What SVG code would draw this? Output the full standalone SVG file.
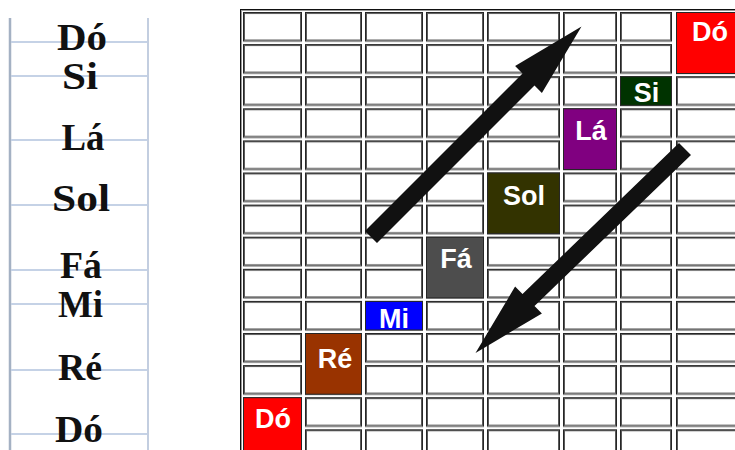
<svg xmlns="http://www.w3.org/2000/svg" width="735" height="450" viewBox="0 0 735 450">
<style>
.staff{stroke:#c5d2e6;stroke-width:2;fill:none}
.vline{stroke:#a4b1c3;stroke-width:2.5}
.note{font-family:"Liberation Serif","Times New Roman",serif;font-weight:bold;font-size:37px;fill:#111;text-anchor:middle}
.co{stroke:#262626;stroke-width:1}
.ci{stroke:#5a5a5a;stroke-width:1;fill:none}
.cell{stroke:#262626;stroke-width:1}
.lbl{font-family:"Liberation Sans",Arial,sans-serif;font-weight:bold;font-size:27px;fill:#fff;text-anchor:middle}
.arrow{fill:#111}
</style>
<defs>
<pattern id="p0" patternUnits="userSpaceOnUse" x="243" y="12" width="62" height="32.1"><rect class="co" x="0.5" y="0.5" width="58" height="28.6" fill="#fff"/><rect class="ci" x="1.5" y="1.5" width="56" height="26.6"/></pattern>
<pattern id="p1" patternUnits="userSpaceOnUse" x="305" y="12" width="60" height="32.1"><rect class="co" x="0.5" y="0.5" width="56" height="28.6" fill="#fff"/><rect class="ci" x="1.5" y="1.5" width="54" height="26.6"/></pattern>
<pattern id="p2" patternUnits="userSpaceOnUse" x="365" y="12" width="61" height="32.1"><rect class="co" x="0.5" y="0.5" width="57" height="28.6" fill="#fff"/><rect class="ci" x="1.5" y="1.5" width="55" height="26.6"/></pattern>
<pattern id="p3" patternUnits="userSpaceOnUse" x="426" y="12" width="61" height="32.1"><rect class="co" x="0.5" y="0.5" width="57" height="28.6" fill="#fff"/><rect class="ci" x="1.5" y="1.5" width="55" height="26.6"/></pattern>
<pattern id="p4" patternUnits="userSpaceOnUse" x="487" y="12" width="76" height="32.1"><rect class="co" x="0.5" y="0.5" width="72" height="28.6" fill="#fff"/><rect class="ci" x="1.5" y="1.5" width="70" height="26.6"/></pattern>
<pattern id="p5" patternUnits="userSpaceOnUse" x="563" y="12" width="57" height="32.1"><rect class="co" x="0.5" y="0.5" width="53" height="28.6" fill="#fff"/><rect class="ci" x="1.5" y="1.5" width="51" height="26.6"/></pattern>
<pattern id="p6" patternUnits="userSpaceOnUse" x="620" y="12" width="56" height="32.1"><rect class="co" x="0.5" y="0.5" width="51" height="28.6" fill="#fff"/><rect class="ci" x="1.5" y="1.5" width="49" height="26.6"/></pattern>
<pattern id="p7" patternUnits="userSpaceOnUse" x="676" y="12" width="66" height="32.1"><rect class="co" x="0.5" y="0.5" width="61" height="28.6" fill="#fff"/><rect class="ci" x="1.5" y="1.5" width="59" height="26.6"/></pattern>
</defs>
<rect width="735" height="450" fill="#fff"/>

<g id="staff">
<line class="vline" x1="10" y1="18" x2="10" y2="450"/>
<line class="vline" x1="148" y1="18" x2="148" y2="450" style="stroke:#c3cee0;stroke-width:2"/>
<line class="staff" x1="11" y1="42" x2="147" y2="42"/>
<line class="staff" x1="11" y1="76" x2="147" y2="76"/>
<line class="staff" x1="11" y1="140" x2="147" y2="140"/>
<line class="staff" x1="11" y1="205" x2="147" y2="205"/>
<line class="staff" x1="11" y1="270" x2="147" y2="270"/>
<line class="staff" x1="11" y1="304" x2="147" y2="304"/>
<line class="staff" x1="11" y1="370" x2="147" y2="370"/>
<line class="staff" x1="11" y1="434" x2="147" y2="434"/>
</g>
<g id="staff-notes">
<text class="note" x="82" y="50" textLength="50" lengthAdjust="spacingAndGlyphs">Dó</text>
<text class="note" x="80" y="89" textLength="36" lengthAdjust="spacingAndGlyphs">Si</text>
<text class="note" x="83" y="150" textLength="43" lengthAdjust="spacingAndGlyphs">Lá</text>
<text class="note" x="81" y="211" textLength="58" lengthAdjust="spacingAndGlyphs">Sol</text>
<text class="note" x="81" y="278" textLength="42" lengthAdjust="spacingAndGlyphs">Fá</text>
<text class="note" x="80.5" y="317" textLength="45" lengthAdjust="spacingAndGlyphs">Mi</text>
<text class="note" x="80" y="380" textLength="44" lengthAdjust="spacingAndGlyphs">Ré</text>
<text class="note" x="79" y="442" textLength="48" lengthAdjust="spacingAndGlyphs">Dó</text>
</g>

<g id="table">
<line x1="240" y1="9.5" x2="735" y2="9.5" stroke="#111" stroke-width="1"/>
<line x1="240.5" y1="9" x2="240.5" y2="450" stroke="#111" stroke-width="1"/>
<line x1="241.5" y1="10.5" x2="735" y2="10.5" stroke="#999" stroke-width="1"/>
<line x1="241.5" y1="10" x2="241.5" y2="450" stroke="#999" stroke-width="1"/>
<rect x="243" y="12" width="59" height="440" fill="url(#p0)"/>
<rect x="305" y="12" width="57" height="440" fill="url(#p1)"/>
<rect x="365" y="12" width="58" height="440" fill="url(#p2)"/>
<rect x="426" y="12" width="58" height="440" fill="url(#p3)"/>
<rect x="487" y="12" width="73" height="440" fill="url(#p4)"/>
<rect x="563" y="12" width="54" height="440" fill="url(#p5)"/>
<rect x="620" y="12" width="52" height="440" fill="url(#p6)"/>
<rect x="676" y="12" width="62" height="440" fill="url(#p7)"/>
</g>

<g id="cell-do-high">
<rect class="cell" x="676.5" y="12.5" width="62" height="61" fill="#ff0000"/>
<text class="lbl" x="710" y="41">Dó</text>
</g>
<g id="cell-si">
<rect class="cell" x="620.5" y="76.7" width="51" height="28.6" fill="#003300"/>
<text class="lbl" x="646.5" y="102">Si</text>
</g>
<g id="cell-la">
<rect class="cell" x="563.5" y="108.8" width="53" height="60.7" fill="#800080"/>
<text class="lbl" x="591" y="140">Lá</text>
</g>
<g id="cell-sol">
<rect class="cell" x="487.5" y="173" width="72" height="60.7" fill="#333300"/>
<text class="lbl" x="524" y="205">Sol</text>
</g>
<g id="cell-fa">
<rect class="cell" x="426.5" y="237.2" width="57" height="60.7" fill="#4d4d4d"/>
<text class="lbl" x="456" y="268">Fá</text>
</g>
<g id="cell-mi">
<rect class="cell" x="365.5" y="301.4" width="57" height="28.6" fill="#0000ff"/>
<text class="lbl" x="394" y="328">Mi</text>
</g>
<g id="cell-re">
<rect class="cell" x="305.5" y="333.5" width="56" height="60.7" fill="#993300"/>
<text class="lbl" x="335" y="368">Ré</text>
</g>
<g id="cell-do-low">
<rect class="cell" x="243.5" y="397.7" width="58" height="62" fill="#ff0000"/>
<text class="lbl" x="273" y="428">Dó</text>
</g>

<g id="connectors">
<polygon class="arrow" points="365,231 522.5,73.5 515.1,66.1 581.5,26.5 541.9,92.9 534.5,85.5 377,243"/>
<polygon class="arrow" points="679,143 522.5,294 515.1,286.6 475.5,353 541.9,313.4 534.5,306 691,155"/>
</g>
</svg>
